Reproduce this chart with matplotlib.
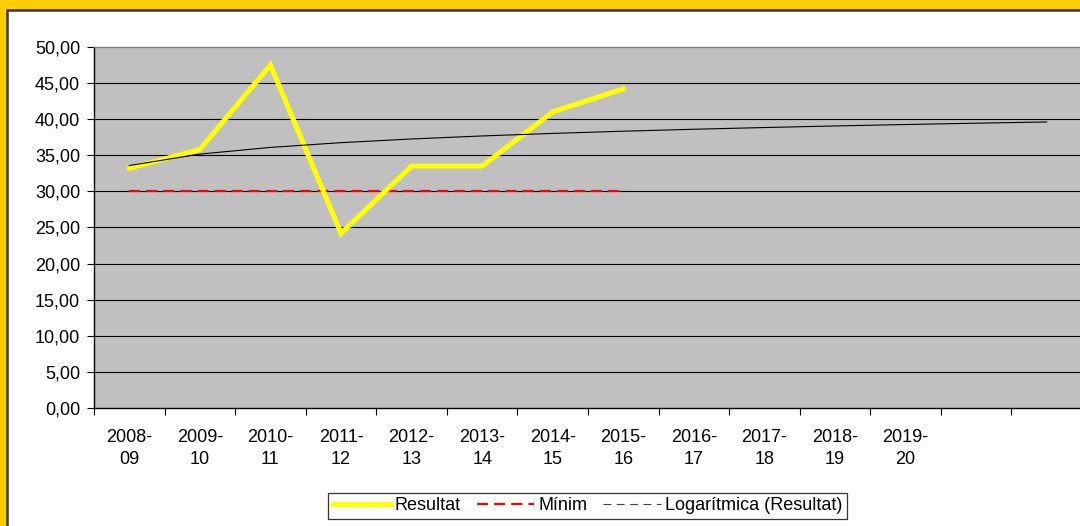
import numpy as np
import matplotlib
matplotlib.use("Agg")
import matplotlib.pyplot as plt
from matplotlib.lines import Line2D
from matplotlib.patches import Rectangle

plt.rcParams['font.family'] = ['Liberation Sans', 'DejaVu Sans']

categories = ["2008-\n09", "2009-\n10", "2010-\n11", "2011-\n12", "2012-\n13", "2013-\n14",
              "2014-\n15", "2015-\n16", "2016-\n17", "2017-\n18", "2018-\n19", "2019-\n20", "", ""]
resultat = [33.2, 35.8, 47.5, 24.2, 33.5, 33.5, 41.0, 44.2]
minim = [30, 30, 30, 30, 30, 30, 30, 30]
yticks = [0, 5, 10, 15, 20, 25, 30, 35, 40, 45, 50]

fig = plt.figure(figsize=(10.8, 5.26), dpi=100)
fig.patch.set_facecolor('#FFCC00')

# white chart panel with dark border
panel = Rectangle((7 / 1080, -0.05), 1.1, 1 - 10 / 526 + 0.05, transform=fig.transFigure,
                  facecolor='white', edgecolor='#3a3520', linewidth=1.8, zorder=-10)
fig.patches.append(panel)

ax = fig.add_axes([94 / 1080, 1 - 408 / 526, 988 / 1080, 361 / 526])
ax.set_zorder(1)
ax.set_facecolor('#C0C0C0')

n = len(categories)
x_all = np.arange(n)
x_data = np.arange(len(resultat))

# logarithmic trendline fitted to the data (like the spreadsheet trendline)
a, b = np.polyfit(np.log(x_data + 1), resultat, 1)
trend = a * np.log(x_all + 1) + b

for yv in yticks[1:-1]:
    ax.axhline(yv, color='black', linewidth=0.8, zorder=1)

ax.plot(x_data, minim, color='#FF0000', linewidth=1.6, dashes=(5, 2.7), zorder=2)
ax.plot(x_data, resultat, color='#FFFF00', linewidth=3.6, solid_joinstyle='miter', zorder=3)
ax.plot(x_all, trend, color='black', linewidth=0.8, zorder=4)

ax.set_xlim(-0.5, n - 0.5)
ax.set_ylim(0, 50)

ax.set_yticks(yticks)
ax.set_yticklabels([f"{v:.2f}".replace('.', ',') for v in yticks])
ax.set_xticks(np.arange(n + 1) - 0.5)
ax.set_xticklabels([])
ax.set_xticks(x_all, minor=True)
ax.set_xticklabels(categories, minor=True, linespacing=1.4)

ax.tick_params(axis='y', which='major', length=5, width=0.8, color='black', labelsize=13, pad=5)
ax.tick_params(axis='x', which='major', length=5, width=0.8, color='black', direction='out')
ax.tick_params(axis='x', which='minor', length=0, labelsize=13, pad=15)

for s in ['left', 'bottom']:
    ax.spines[s].set_color('black')
    ax.spines[s].set_linewidth(1.0)
ax.spines['top'].set_color('#808080')
ax.spines['top'].set_linewidth(1.0)
ax.spines['right'].set_visible(False)

handles = [
    Line2D([], [], color='#FFFF00', linewidth=3.6),
    Line2D([], [], color='#FF0000', linewidth=1.6, dashes=(5, 2.7)),
    Line2D([], [], color='#404040', linewidth=0.8, dashes=(7, 5)),
]
labels = ["Resultat", "Mínim", "Logarítmica (Resultat)"]
leg = fig.legend(handles, labels, loc='center', bbox_to_anchor=(587.5 / 1080, 1 - 506 / 526),
                 ncol=3, fontsize=13, frameon=True, fancybox=False, edgecolor='black',
                 handlelength=3.2, handletextpad=0.2, columnspacing=0.9, borderpad=0.25,
                 borderaxespad=0)
leg.get_frame().set_linewidth(0.9)

fig.savefig("out.png", dpi=100, facecolor=fig.get_facecolor())
